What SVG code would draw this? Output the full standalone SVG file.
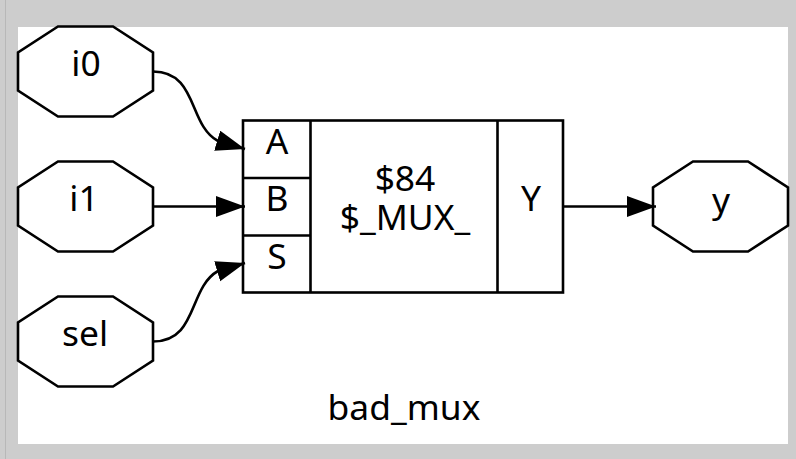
<svg xmlns="http://www.w3.org/2000/svg" width="796" height="459" viewBox="0 0 796 459">
<style>
.o{fill:#fff;stroke:#000;stroke-width:2.6}
.l{fill:none;stroke:#000;stroke-width:2.6}
text{font-family:"Noto Sans","DejaVu Sans",sans-serif;font-size:35.4px;fill:#000;text-anchor:middle}
</style>
<defs><marker id="a" markerUnits="userSpaceOnUse" markerWidth="30" markerHeight="24" refX="29" refY="10.500" orient="auto"><path d="M0 0L29 10.500L0 21Z" fill="#000"/></marker></defs>
<rect width="796" height="459" fill="#cdcdcd"/>
<rect x="5" y="0" width="1" height="459" fill="#b8b8b8"/>
<rect x="18" y="27" width="770" height="417" fill="#fff"/>
<g id="i0"><polygon class="o" points="58,26.500 113,26.500 153,52.500 153,90.500 113,116.500 58,116.500 18,90.500 18,52.500"/><text x="86" y="76">i0</text></g>
<g id="i1"><polygon class="o" points="58,161.500 113,161.500 153,187.500 153,225.500 113,251.500 58,251.500 18,225.500 18,187.500"/><text x="84" y="211">i1</text></g>
<g id="sel"><polygon class="o" points="58,296.500 113,296.500 153,322.500 153,360.500 113,386.500 58,386.500 18,360.500 18,322.500"/><text x="85" y="346">sel</text></g>
<g id="y"><polygon class="o" points="693,161.500 748,161.500 788,187.500 788,225.500 748,251.500 693,251.500 653,225.500 653,187.500"/><text x="721" y="213">y</text></g>
<g id="cell">
<rect class="o" x="243" y="120.500" width="320" height="172"/>
<path class="l" d="M310.500 120.500V292.500M497.500 120.500V292.500M243 178H310.500M243 235.500H310.500"/>
<text x="277" y="154">A</text>
<text x="277" y="211">B</text>
<text x="277" y="269">S</text>
<text x="405" y="191">$84</text>
<text x="405" y="230">$_MUX_</text>
<text x="531" y="211">Y</text>
</g>
<g id="connectors">
<path class="l" marker-end="url(#a)" d="M153 71.500C198 71.500 188 125 218 141L245 149"/>
<path class="l" marker-end="url(#a)" d="M153 206.500H245"/>
<path class="l" marker-end="url(#a)" d="M153 341.500C198 341.500 188 288 218 271L245 263"/>
<path class="l" marker-end="url(#a)" d="M563 206.500H656"/>
</g>
<text id="title" x="404" y="420">bad_mux</text>
</svg>
